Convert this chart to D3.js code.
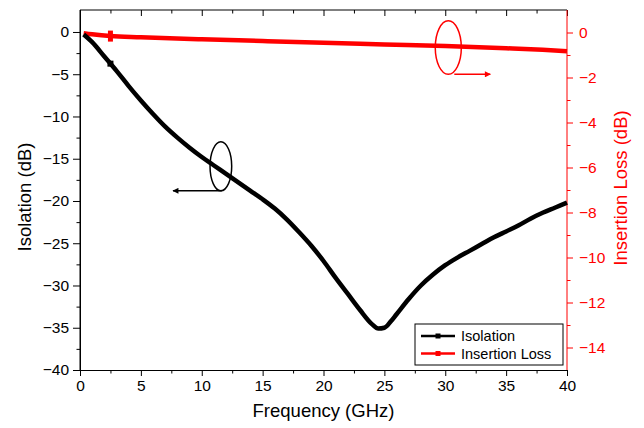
<!DOCTYPE html>
<html>
<head>
<meta charset="utf-8">
<script src="https://cdn.jsdelivr.net/npm/d3@7"></script>
<style>
    body { margin: 0; background: #fff; }
    #viz-isolation text { font-family: Arial, "Liberation Sans", sans-serif; }
</style>
</head>
<body>
<div id="viz-isolation"></div>
<script>
// Isolation (left axis) and insertion loss (right axis) vs frequency

const isoFreq = [0.3, 1, 2, 3, 4, 5, 6, 7, 8, 9, 10, 11, 12, 13, 14, 15, 16, 17, 18, 19, 20,
    21, 22, 23, 24, 24.5, 25, 25.5, 26, 27, 28, 29, 30, 31, 32, 33, 34, 35, 36, 37, 38, 39, 40];
const isoValues = [-0.3, -1.2, -2.9, -4.6, -6.4, -8.1, -9.7, -11.2, -12.5, -13.7, -14.8, -15.8, -16.8, -17.8, -18.8, -19.8, -20.9, -22.2, -23.7, -25.3, -27.1,
    -29.1, -31.0, -32.9, -34.6, -35.1, -35.0, -34.3, -33.4, -31.6, -30.0, -28.7, -27.6, -26.7, -25.9, -25.1, -24.3, -23.6, -22.9, -22.1, -21.4, -20.8, -20.2];

const ilFreq = [0.3, 1, 2.5, 5, 10, 15, 20, 25, 30, 35, 38, 40];
const ilValues = [-0.03, -0.08, -0.16, -0.21, -0.30, -0.38, -0.46, -0.53, -0.60, -0.70, -0.77, -0.83];

// one symbol is visible on each trace
const markerFreq = [2.5];

const xTicks = [0, 5, 10, 15, 20, 25, 30, 35, 40];
const yLeftTicks = [0, -5, -10, -15, -20, -25, -30, -35, -40];
const yRightTicks = [0, -2, -4, -6, -8, -10, -12, -14];

function drawChart() {
    const container = d3.select('#viz-isolation');
    container.selectAll('*').remove();

    const margin = { top: 10, right: 77, bottom: 58, left: 80 };
    const width = 487;
    const height = 360;

    const svg = container.append('svg')
        .attr('width', 644)
        .attr('height', 428);

    const g = svg.append('g')
        .attr('transform', `translate(${margin.left},${margin.top})`);

    const xScale = d3.scaleLinear().domain([0, 40]).range([0, width]);
    const yLeft = d3.scaleLinear().domain([-40, 2.6]).range([height, 0]);
    const yRight = d3.scaleLinear().domain([-15, 1]).range([height, 0]);

    const minor = (ticks, step) => ticks.slice(0, -1).map(t => t + step);

    // Bottom axis
    const xAxis = g.append('g')
        .attr('transform', `translate(0,${height})`)
        .call(d3.axisBottom(xScale).tickValues(xTicks).tickSize(6).tickPadding(4).tickSizeOuter(0));
    xAxis.selectAll('text').style('font-size', '15.5px').style('fill', '#000');
    xAxis.select('.domain').attr('stroke', '#000');
    g.append('g')
        .attr('transform', `translate(0,${height})`)
        .call(d3.axisBottom(xScale).tickValues(minor(xTicks, 2.5)).tickSize(3.5).tickFormat('').tickSizeOuter(0))
        .select('.domain').remove();

    // Top frame with inward ticks
    g.append('line')
        .attr('x1', 0).attr('x2', width)
        .attr('y1', 0).attr('y2', 0)
        .attr('stroke', '#000');
    g.append('g')
        .call(d3.axisBottom(xScale).tickValues(xTicks).tickSize(6).tickFormat('').tickSizeOuter(0))
        .call(a => a.select('.domain').remove());
    g.append('g')
        .call(d3.axisBottom(xScale).tickValues(minor(xTicks, 2.5)).tickSize(3.5).tickFormat('').tickSizeOuter(0))
        .call(a => a.select('.domain').remove());

    // Left axis (isolation)
    const yAxisL = g.append('g')
        .call(d3.axisLeft(yLeft).tickValues(yLeftTicks).tickSize(7).tickPadding(4).tickSizeOuter(0));
    yAxisL.selectAll('text').style('font-size', '15.5px').style('fill', '#000');
    g.append('g')
        .call(d3.axisLeft(yLeft).tickValues(minor(yLeftTicks.slice().reverse(), 2.5)).tickSize(3.5).tickFormat('').tickSizeOuter(0))
        .select('.domain').remove();
    g.append('line')
        .attr('x1', 0).attr('x2', 0)
        .attr('y1', 0).attr('y2', height)
        .attr('stroke', '#000');

    // Right axis (insertion loss), red
    const yAxisR = g.append('g')
        .attr('transform', `translate(${width},0)`)
        .call(d3.axisRight(yRight).tickValues(yRightTicks).tickSize(6).tickPadding(6).tickSizeOuter(0));
    yAxisR.selectAll('text').style('font-size', '15.5px').style('fill', '#ff0000');
    yAxisR.selectAll('line').attr('stroke', '#ff0000');
    yAxisR.select('.domain').remove();
    const yAxisR2 = g.append('g')
        .attr('transform', `translate(${width},0)`)
        .call(d3.axisRight(yRight).tickValues(minor(yRightTicks.slice().reverse(), 1)).tickSize(3.5).tickFormat('').tickSizeOuter(0));
    yAxisR2.selectAll('line').attr('stroke', '#ff0000');
    yAxisR2.select('.domain').remove();
    g.append('line')
        .attr('x1', width).attr('x2', width)
        .attr('y1', 0).attr('y2', height)
        .attr('stroke', '#ff0000');

    // Axis titles
    g.append('text')
        .attr('x', width / 2)
        .attr('y', height + 47)
        .attr('text-anchor', 'middle')
        .style('font-size', '18.5px')
        .style('fill', '#000')
        .text('Frequency (GHz)');

    g.append('text')
        .attr('transform', 'rotate(-90)')
        .attr('x', -height / 2 - 7)
        .attr('y', -49)
        .attr('text-anchor', 'middle')
        .style('font-size', '18.5px')
        .style('fill', '#000')
        .text('Isolation (dB)');

    g.append('text')
        .attr('transform', 'rotate(-90)')
        .attr('x', -height / 2 + 2)
        .attr('y', width + 60)
        .attr('text-anchor', 'middle')
        .style('font-size', '18.5px')
        .style('fill', '#ff0000')
        .text('Insertion Loss (dB)');

    // Traces
    const isoData = isoFreq.map((f, i) => ({ f: f, v: isoValues[i] }));
    const ilData = ilFreq.map((f, i) => ({ f: f, v: ilValues[i] }));

    const isoLine = d3.line()
        .x(d => xScale(d.f))
        .y(d => yLeft(d.v))
        .curve(d3.curveMonotoneX);
    const ilLine = d3.line()
        .x(d => xScale(d.f))
        .y(d => yRight(d.v))
        .curve(d3.curveMonotoneX);

    g.append('path')
        .datum(ilData)
        .attr('d', ilLine)
        .attr('fill', 'none')
        .attr('stroke', '#ff0000')
        .attr('stroke-width', 4.5);

    g.append('path')
        .datum(isoData)
        .attr('d', isoLine)
        .attr('fill', 'none')
        .attr('stroke', '#000')
        .attr('stroke-width', 4.5);

    const interp = (fs, vs, f) => {
        const i = Math.max(1, d3.bisectLeft(fs, f));
        const t = (f - fs[i - 1]) / (fs[i] - fs[i - 1]);
        return vs[i - 1] + t * (vs[i] - vs[i - 1]);
    };

    markerFreq.forEach(f => {
        g.append('rect')
            .attr('x', xScale(f) - 3).attr('y', yLeft(interp(isoFreq, isoValues, f)) - 3)
            .attr('width', 6).attr('height', 6)
            .attr('fill', '#000');
        g.append('rect')
            .attr('x', xScale(f) - 2.5).attr('y', yRight(interp(ilFreq, ilValues, f)) - 5.5)
            .attr('width', 5).attr('height', 11)
            .attr('fill', '#ff0000');
    });

    // Ellipse + arrow annotations (in data units)
    const isoNote = { f: 11.57, v: -15.9, rf: 0.89, rv: 2.9, toF: 7.64 };
    const ilNote = { f: 30.25, v: -0.67, rf: 1.07, rv: 1.19, toF: 33.7 };

    svg.append('defs').selectAll('marker')
        .data([{ id: 'arrow-black', color: '#000' }, { id: 'arrow-red', color: '#ff0000' }])
        .enter()
        .append('marker')
        .attr('id', d => d.id)
        .attr('viewBox', '0 0 10 10')
        .attr('refX', 9).attr('refY', 5)
        .attr('markerWidth', 10).attr('markerHeight', 6)
        .attr('markerUnits', 'userSpaceOnUse')
        .attr('orient', 'auto')
        .append('path')
        .attr('d', 'M0,0 L10,5 L0,10 Z')
        .attr('fill', d => d.color);

    const ex = xScale(isoNote.f), ey = yLeft(isoNote.v);
    const eRy = yLeft(isoNote.v - isoNote.rv) - ey;
    g.append('ellipse')
        .attr('cx', ex).attr('cy', ey)
        .attr('rx', xScale(isoNote.rf)).attr('ry', eRy)
        .attr('fill', 'none')
        .attr('stroke', '#000')
        .attr('stroke-width', 1.5);
    g.append('line')
        .attr('x1', ex + 1).attr('y1', ey + eRy)
        .attr('x2', xScale(isoNote.toF)).attr('y2', ey + eRy)
        .attr('stroke', '#000')
        .attr('stroke-width', 1.5)
        .attr('marker-end', 'url(#arrow-black)');

    const rx = xScale(ilNote.f), ry = yRight(ilNote.v);
    const rRy = yRight(ilNote.v - ilNote.rv) - ry;
    g.append('ellipse')
        .attr('cx', rx).attr('cy', ry)
        .attr('rx', xScale(ilNote.rf)).attr('ry', rRy)
        .attr('fill', 'none')
        .attr('stroke', '#ff0000')
        .attr('stroke-width', 1.5);
    g.append('line')
        .attr('x1', rx + 6).attr('y1', ry + rRy)
        .attr('x2', xScale(ilNote.toF)).attr('y2', ry + rRy)
        .attr('stroke', '#ff0000')
        .attr('stroke-width', 1.5)
        .attr('marker-end', 'url(#arrow-red)');

    // Legend
    const legend = g.append('g')
        .attr('transform', `translate(${width - 152}, ${height - 46})`);
    legend.append('rect')
        .attr('x', 0).attr('y', 0)
        .attr('width', 148).attr('height', 41)
        .attr('fill', '#fff')
        .attr('stroke', '#000')
        .attr('stroke-width', 1);

    const legendItems = [
        { label: 'Isolation', color: '#000' },
        { label: 'Insertion Loss', color: '#ff0000' }
    ];
    legendItems.forEach((s, i) => {
        const item = legend.append('g').attr('transform', `translate(0, ${12 + i * 17.5})`);
        item.append('line')
            .attr('x1', 6).attr('x2', 40)
            .attr('y1', 0).attr('y2', 0)
            .attr('stroke', s.color)
            .attr('stroke-width', 2.5);
        item.append('rect')
            .attr('x', 20.5).attr('y', -2.5)
            .attr('width', 5).attr('height', 5)
            .attr('fill', s.color);
        item.append('text')
            .attr('x', 46).attr('y', 5)
            .style('font-size', '14.5px')
            .style('fill', '#000')
            .text(s.label);
    });
}

drawChart();
</script>
</body>
</html>
